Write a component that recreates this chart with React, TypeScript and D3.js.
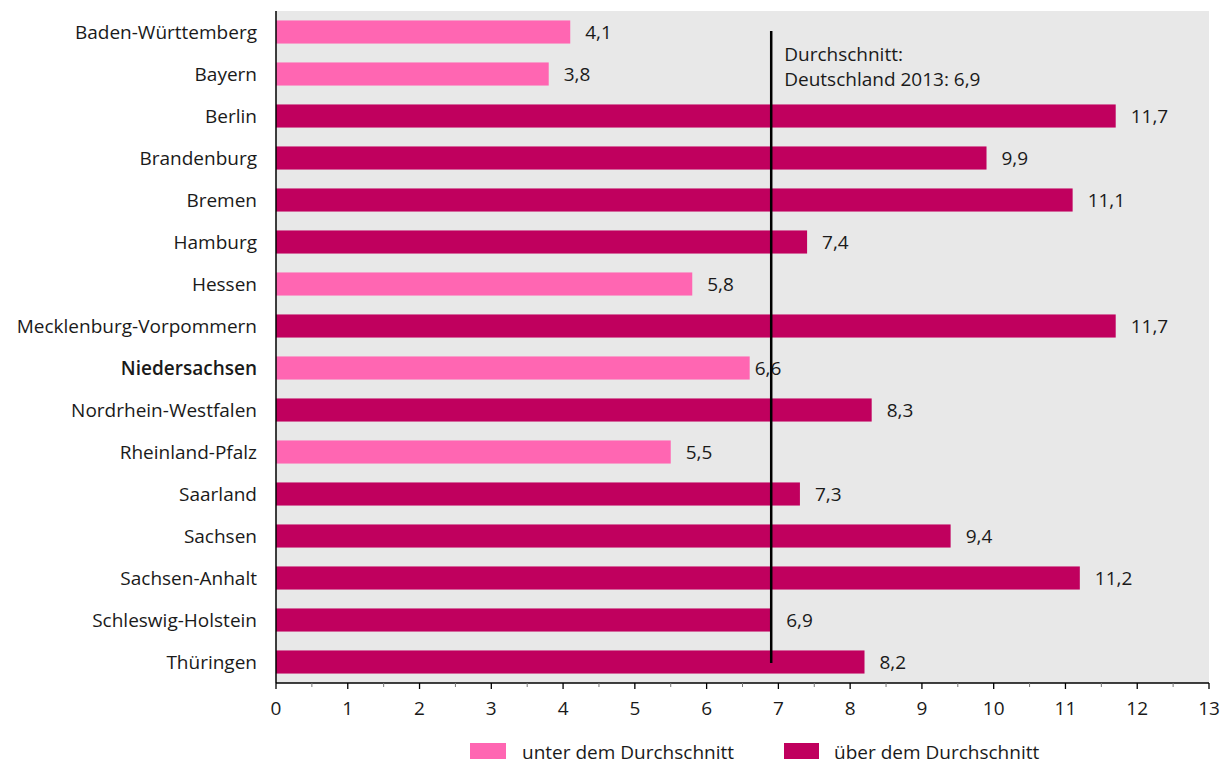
import React from "react";
import * as d3 from "d3";

const categories = [
  "Baden-Württemberg", "Bayern", "Berlin", "Brandenburg", "Bremen", "Hamburg", "Hessen",
  "Mecklenburg-Vorpommern", "Niedersachsen", "Nordrhein-Westfalen", "Rheinland-Pfalz",
  "Saarland", "Sachsen", "Sachsen-Anhalt", "Schleswig-Holstein", "Thüringen",
];
const values = [4.1, 3.8, 11.7, 9.9, 11.1, 7.4, 5.8, 11.7, 6.6, 8.3, 5.5, 7.3, 9.4, 11.2, 6.9, 8.2];
const belowAverage = [true, true, false, false, false, false, true, false, true, false, true, false, false, false, false, false];
const average = 6.9;
const highlighted = "Niedersachsen";
const xTicks = [0, 1, 2, 3, 4, 5, 6, 7, 8, 9, 10, 11, 12, 13];
const annotationLines = ["Durchschnitt:", "Deutschland 2013: 6,9"];
const legendLabels = ["unter dem Durchschnitt", "über dem Durchschnitt"];

const LIGHT = "#FF66B2";
const DARK = "#C0005E";
const BG = "#E8E8E8";
const FONT = "'Open Sans', 'Noto Sans', sans-serif";
const FS = 19;

export default function App() {
  const W = 1221, H = 765;
  const left = 276, right = 1209, top = 11, bottom = 683;
  const x = d3.scaleLinear().domain([0, 13]).range([left, right]);
  const y = d3.scaleBand<string>().domain(categories).range([top, bottom]).paddingInner(0.45).paddingOuter(0.225);
  const fmt = (v: number) => v.toFixed(1).replace(".", ",");
  const minorTicks = d3.range(0.5, 13, 1);

  return (
    <svg width={W} height={H} style={{ position: "absolute", left: 0, top: 0, fontFamily: FONT }}>
      <rect x={left} y={top} width={right - left} height={bottom - top} fill={BG} />
      {categories.map((c, i) => (
        <g key={c}>
          <rect x={x(0)} y={y(c)!} width={x(values[i]) - x(0)} height={y.bandwidth()} fill={belowAverage[i] ? LIGHT : DARK} />
          <text
            x={left - 19}
            y={y(c)! + y.bandwidth() / 2}
            textAnchor="end"
            dominantBaseline="central"
            fontSize={FS}
            fontWeight={c === highlighted ? 600 : 400}
            fill="#1a1a1a"
          >{c}</text>
          <text
            x={x(values[i]) + (c === highlighted ? 5 : 15)}
            y={y(c)! + y.bandwidth() / 2}
            dominantBaseline="central"
            fontSize={FS}
            fill="#1a1a1a"
          >{fmt(values[i])}</text>
        </g>
      ))}
      <line x1={x(average)} x2={x(average)} y1={31} y2={663} stroke="#000" strokeWidth={2.5} />
      {annotationLines.map((t, i) => (
        <text key={t} x={x(average) + 13} y={54 + i * 25} dominantBaseline="central" fontSize={FS} fill="#1a1a1a">{t}</text>
      ))}
      <line x1={left} x2={left} y1={top} y2={bottom} stroke="#000" strokeWidth={1.5} />
      <line x1={left} x2={right} y1={bottom} y2={bottom} stroke="#000" strokeWidth={1.5} />
      {minorTicks.map(t => (
        <line key={"m" + t} x1={x(t)} x2={x(t)} y1={bottom} y2={bottom + 4} stroke="#777" strokeWidth={1} />
      ))}
      {xTicks.map(t => (
        <g key={t}>
          <line x1={x(t)} x2={x(t)} y1={bottom} y2={bottom + 6} stroke="#000" strokeWidth={1.3} />
          <text x={x(t)} y={708} textAnchor="middle" dominantBaseline="central" fontSize={FS} fill="#1a1a1a">{t}</text>
        </g>
      ))}
      <rect x={470} y={743} width={36} height={16} fill={LIGHT} />
      <text x={522} y={752} dominantBaseline="central" fontSize={FS} fill="#1a1a1a">{legendLabels[0]}</text>
      <rect x={784} y={743} width={35} height={16} fill={DARK} />
      <text x={834} y={752} dominantBaseline="central" fontSize={FS} fill="#1a1a1a">{legendLabels[1]}</text>
    </svg>
  );
}
